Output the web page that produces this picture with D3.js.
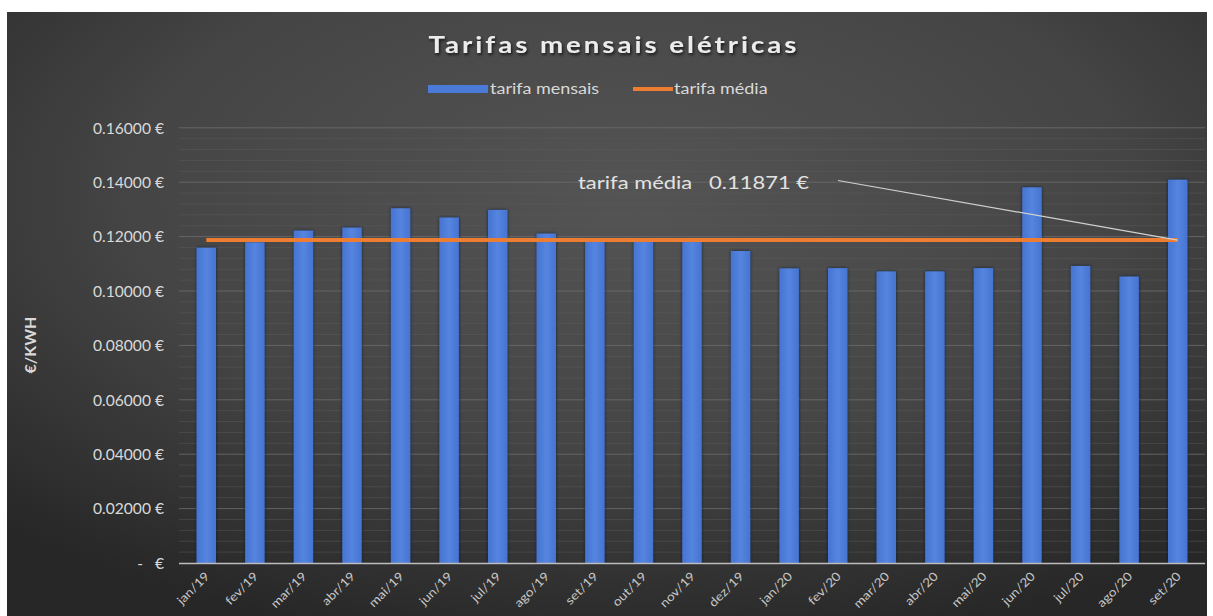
<!DOCTYPE html>
<html>
<head>
<meta charset="utf-8">
<script src="https://cdn.jsdelivr.net/npm/d3@7/dist/d3.min.js"></script>
<style>
  html, body { margin: 0; padding: 0; background: #ffffff; }
  svg { display: block; }
</style>
</head>
<body>
<svg id="chart" width="1213" height="616"></svg>
<script>
// Monthly electricity tariffs (€/kWh), Jan 2019 – Sep 2020
const months = ["jan/19","fev/19","mar/19","abr/19","mai/19","jun/19","jul/19","ago/19","set/19","out/19","nov/19","dez/19",
                "jan/20","fev/20","mar/20","abr/20","mai/20","jun/20","jul/20","ago/20","set/20"];
const monthlyTariff = [0.1159,0.1179,0.1222,0.1233,0.1304,0.1270,0.1298,0.1211,0.1185,0.1185,0.1180,0.1147,
                       0.1083,0.1084,0.1072,0.1072,0.1084,0.1381,0.1092,0.1053,0.1409];
const averageTariff = 0.11871;
const yTicks = [0, 0.02, 0.04, 0.06, 0.08, 0.10, 0.12, 0.14, 0.16];
const seriesNames = ["tarifa mensais", "tarifa média"];
const chartTitle = "Tarifas mensais elétricas";
const yTitle = "€/KWH";

const svg = d3.select("#chart");
const font = "Lato, 'Open Sans', sans-serif";
const defs = svg.append("defs");

// dark panel gradient
const bg = defs.append("radialGradient").attr("id", "bgGrad")
  .attr("cx", "52%").attr("cy", "30%").attr("r", "75%");
bg.append("stop").attr("offset", "0%").attr("stop-color", "#545454");
bg.append("stop").attr("offset", "55%").attr("stop-color", "#454545");
bg.append("stop").attr("offset", "100%").attr("stop-color", "#272727");

const barGrad = defs.append("linearGradient").attr("id", "barGrad")
  .attr("x1", "0").attr("x2", "1").attr("y1", "0").attr("y2", "0");
barGrad.append("stop").attr("offset", "0%").attr("stop-color", "#4674d0");
barGrad.append("stop").attr("offset", "50%").attr("stop-color", "#5585e0");
barGrad.append("stop").attr("offset", "100%").attr("stop-color", "#4674d0");

const shadow = defs.append("filter").attr("id", "barShadow")
  .attr("x", "-30%").attr("y", "-10%").attr("width", "160%").attr("height", "120%");
shadow.append("feDropShadow").attr("dx", 0).attr("dy", 0).attr("stdDeviation", 1.6)
  .attr("flood-color", "#0e1a38").attr("flood-opacity", 0.9);

const txtShadow = defs.append("filter").attr("id", "txtShadow")
  .attr("x", "-10%").attr("y", "-30%").attr("width", "120%").attr("height", "160%");
txtShadow.append("feDropShadow").attr("dx", 1).attr("dy", 2).attr("stdDeviation", 1.5)
  .attr("flood-color", "#000").attr("flood-opacity", 0.7);

svg.append("rect").attr("x", 7).attr("y", 12).attr("width", 1200).attr("height", 610)
  .attr("fill", "url(#bgGrad)");

// scales
const x = d3.scaleBand().domain(months).range([182, 1202]).paddingInner(0.6).paddingOuter(0.3);
const y = d3.scaleLinear().domain([0, 0.16]).range([563, 127.8]);
const plotLeft = 179, plotRight = 1205;

// text is drawn slightly widened horizontally
const wide = (tx, ty, sx) => `translate(${tx},${ty}) scale(${sx},1)`;

// minor and major gridlines
const minor = d3.range(0, 0.1601, 0.004).filter(v => Math.abs(Math.round(v / 0.02) * 0.02 - v) > 1e-6);
svg.append("g").selectAll("line").data(minor).join("line")
  .attr("x1", plotLeft).attr("x2", plotRight)
  .attr("y1", d => y(d)).attr("y2", d => y(d))
  .attr("stroke", "#5e5e5e").attr("stroke-opacity", 0.45).attr("stroke-width", 1);
svg.append("g").selectAll("line").data(yTicks.filter(v => v > 0)).join("line")
  .attr("x1", plotLeft).attr("x2", plotRight)
  .attr("y1", d => y(d)).attr("y2", d => y(d))
  .attr("stroke", "#6e6e6e").attr("stroke-opacity", 0.8).attr("stroke-width", 1);

// y axis labels
const fmt = v => v === 0 ? "-   €" : d3.format(".5f")(v) + " €";
const yAxis = d3.axisLeft(y).tickValues(yTicks).tickFormat(fmt).tickSize(0).tickPadding(0);
const gy = svg.append("g").attr("transform", "translate(164,0)").call(yAxis);
gy.select(".domain").remove();
gy.selectAll("text").attr("fill", "#d9d9d9").style("font-family", font).style("font-size", "15px")
  .attr("x", 0).attr("dy", "0.35em").attr("transform", "scale(1.04,1)").style("white-space", "pre");

// bars
svg.append("g").selectAll("rect").data(monthlyTariff).join("rect")
  .attr("x", (d, i) => x(months[i]))
  .attr("y", d => y(d))
  .attr("width", x.bandwidth())
  .attr("height", d => y(0) - y(d))
  .attr("fill", "url(#barGrad)")
  .attr("filter", "url(#barShadow)");

// x axis
const xAxis = d3.axisBottom(x).tickSize(0).tickPadding(0);
const gx = svg.append("g").attr("transform", "translate(0,563)").call(xAxis);
gx.select(".domain").attr("stroke", "#bdbdbd").attr("stroke-width", 1.3)
  .attr("d", `M${plotLeft},0.5H${plotRight}`);
gx.selectAll("text")
  .attr("fill", "#c8c8c8").style("font-family", font).style("font-size", "12px")
  .attr("text-anchor", "end")
  .attr("dy", 0).attr("y", 0)
  .attr("transform", "translate(4,14) rotate(-45) scale(1.15,1)");

// average line
const avgLine = d3.line().x(d => x(d) + x.bandwidth() / 2).y(() => y(averageTariff));
svg.append("path").datum(months).attr("d", avgLine)
  .attr("fill", "none").attr("stroke", "#ed7d31").attr("stroke-width", 4);

// annotation with leader line to the last point
const lastX = x(months[months.length - 1]) + x.bandwidth() / 2;
svg.append("line").attr("x1", 838).attr("y1", y(0.1410) + 1)
  .attr("x2", lastX).attr("y2", y(averageTariff))
  .attr("stroke", "#d0d0d0").attr("stroke-width", 1.2);
svg.append("text").attr("transform", wide(578, y(0.1410) + 10, 1.22))
  .attr("fill", "#e2e2e2").style("font-family", font).style("font-size", "18px")
  .style("white-space", "pre")
  .text(`${seriesNames[1]}   ${d3.format(".5f")(averageTariff)} €`);

// title
svg.append("text").attr("transform", wide(614, 53, 1.2)).attr("text-anchor", "middle")
  .attr("fill", "#ececec").style("font-family", font).style("font-size", "23px")
  .style("font-weight", "bold").style("letter-spacing", "2.5px")
  .attr("filter", "url(#txtShadow)")
  .text(chartTitle);

// legend
const lg = svg.append("g").style("font-family", font).style("font-size", "15px");
lg.append("rect").attr("x", 428).attr("y", 85).attr("width", 60).attr("height", 8).attr("fill", "#4a7bd8");
lg.append("text").attr("transform", wide(490, 94, 1.2)).attr("fill", "#d9d9d9").text(seriesNames[0]);
lg.append("line").attr("x1", 633).attr("x2", 673).attr("y1", 89).attr("y2", 89)
  .attr("stroke", "#ed7d31").attr("stroke-width", 4);
lg.append("text").attr("transform", wide(674, 94, 1.2)).attr("fill", "#d9d9d9").text(seriesNames[1]);

// y axis title
svg.append("text").attr("transform", "translate(36,345) rotate(-90)")
  .attr("text-anchor", "middle").attr("fill", "#d9d9d9")
  .style("font-family", font).style("font-size", "16px").style("font-weight", "bold")
  .text(yTitle);
</script>
</body>
</html>
